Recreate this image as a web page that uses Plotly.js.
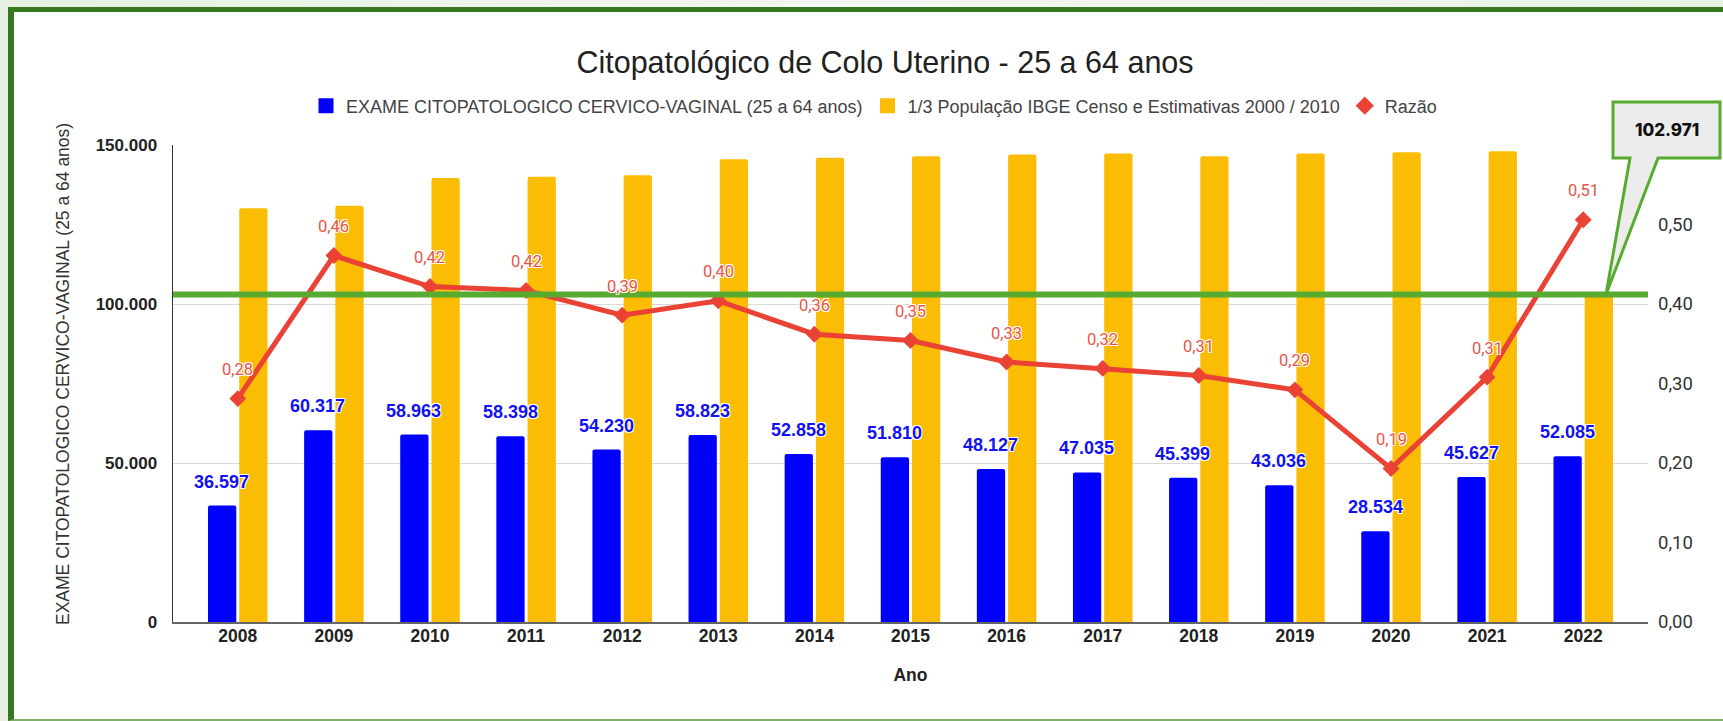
<!DOCTYPE html>
<html>
<head>
<meta charset="utf-8">
<script src="https://cdn.plot.ly/plotly-3.0.1.min.js"></script>
<style>
  html, body { margin:0; padding:0; }
  body { width:1723px; height:721px; overflow:hidden; position:relative;
         background: linear-gradient(90deg, #e6efe1 0%, #f4f8f2 50%, #e9f1e5 100%); }
  #frame { position:absolute; left:8px; top:7px; width:1800px; height:714px; box-sizing:border-box;
           background:#ffffff; border-left:6px solid #37771f; border-top:5px solid #37771f;
           border-bottom:2px solid #7fae6b; }
  #chart { position:absolute; left:0; top:0; width:1723px; height:721px; }
</style>
</head>
<body>
<div id="frame"></div>
<div id="chart"></div>
<script>
// ---- data ----
const anos = ['2008','2009','2010','2011','2012','2013','2014','2015','2016','2017','2018','2019','2020','2021','2022'];
const exames = [36597, 60317, 58963, 58398, 54230, 58823, 52858, 51810, 48127, 47035, 45399, 43036, 28534, 45627, 52085];
const populacao = [130100, 130900, 139600, 140000, 140500, 145500, 146000, 146500, 147000, 147300, 146500, 147300, 147700, 148000, 102971];
const razao = [0.281, 0.461, 0.422, 0.417, 0.386, 0.404, 0.362, 0.354, 0.327, 0.319, 0.310, 0.292, 0.193, 0.308, 0.506];
const nomeExames = 'EXAME CITOPATOLOGICO CERVICO-VAGINAL (25 a 64 anos)';
const nomePop = '1/3 População IBGE Censo e Estimativas 2000 / 2010';
const nomeRazao = 'Razão';
const titulo = 'Citopatológico de Colo Uterino - 25 a 64 anos';
const tituloY = 'EXAME CITOPATOLOGICO CERVICO-VAGINAL (25 a 64 anos)';
const tituloX = 'Ano';
const yMax = 150000;
const y2Max = 0.6;
const y2Ticks = [0, 0.1, 0.2, 0.3, 0.4, 0.5];
const linhaMeta = populacao[populacao.length - 1];

const BLUE = '#0000ff', YELLOW = '#fbbc04', RED = '#ea4335', GREEN = '#58ab31';
const halo = '1px 1px 0 #fff, -1px -1px 0 #fff, 1px -1px 0 #fff, -1px 1px 0 #fff';

const traces = [
  { type:'bar', name:nomeExames, x:anos, y:exames, marker:{color:BLUE, cornerradius:2}, showlegend:false },
  { type:'bar', name:nomePop, x:anos, y:populacao, marker:{color:YELLOW, cornerradius:2}, showlegend:false },
  { type:'scatter', mode:'lines+markers', name:nomeRazao, x:anos, y:razao, yaxis:'y2', showlegend:false,
    line:{color:RED, width:5}, marker:{symbol:'diamond', size:13, color:RED} },
  // legend entries
  { type:'scatter', mode:'markers', name:nomeExames, x:[null], y:[null],
    marker:{symbol:'square', size:15, color:BLUE} },
  { type:'scatter', mode:'markers', name:nomePop, x:[null], y:[null],
    marker:{symbol:'square', size:15, color:YELLOW} },
  { type:'scatter', mode:'markers', name:nomeRazao, x:[null], y:[null], yaxis:'y2',
    marker:{symbol:'diamond', size:14, color:RED} }
];

// callout geometry helpers (pixel -> paper)
const L = 173, R = 1648, T = 145, B = 622;
const px = v => (v - L) / (R - L);
const py = v => (B - v) / (B - T);

const annotations = [];
anos.forEach((a, i) => {
  annotations.push({ x:i, y:exames[i], xref:'x', yref:'y', xshift:-16, yshift:24, showarrow:false,
    text: exames[i].toLocaleString('de-DE'), xanchor:'center', yanchor:'middle',
    font:{family:'Liberation Sans, Arial', size:18, color:'#1212f2', weight:700, shadow:halo} });
  annotations.push({ x:i, y:razao[i], xref:'x', yref:'y2', yshift:29, showarrow:false,
    text: razao[i].toFixed(2).replace('.', ','), xanchor:'center', yanchor:'middle',
    font:{family:'Roboto', size:16.5, color:'#e8544a', shadow:halo} });
});

// y-axis title
annotations.push({ x:px(63), y:py(374), xref:'paper', yref:'paper', showarrow:false, textangle:-90,
  xanchor:'center', yanchor:'middle', text:tituloY,
  font:{family:'Liberation Sans, Arial', size:17.5, color:'#333'} });

const tipY = linhaMeta / yMax;
const callout = 'M ' + px(1613) + ',' + py(102) + ' L ' + px(1720) + ',' + py(102) + ' L ' + px(1720) + ',' + py(158) +
  ' L ' + px(1658) + ',' + py(158) + ' L ' + px(1606) + ',' + tipY + ' L ' + px(1630) + ',' + py(158) +
  ' L ' + px(1613) + ',' + py(158) + ' Z';
annotations.push({ x:px(1667), y:py(130), xref:'paper', yref:'paper', showarrow:false, xanchor:'center', yanchor:'middle',
  text: linhaMeta.toLocaleString('de-DE'), font:{family:'Inter', size:17, color:'#111', weight:800} });

const layout = {
  width:1723, height:721,
  margin:{l:L, r:1723-R, t:T, b:721-B, pad:0},
  paper_bgcolor:'rgba(0,0,0,0)', plot_bgcolor:'rgba(0,0,0,0)',
  separators:',.',
  font:{family:'Liberation Sans, Arial', color:'#222'},
  title:{ text:titulo, x:885/1723, xanchor:'center', y:1-62/721, yanchor:'middle', xref:'container', yref:'container',
          font:{family:'Liberation Sans, Arial', size:30.5, color:'#212121'} },
  barmode:'group', bargap:0.35, bargroupgap:0.095,
  showlegend:true,
  legend:{ orientation:'h', x:px(874), xanchor:'center', y:py(106), yanchor:'middle',
           font:{family:'Liberation Sans, Arial', size:18, color:'#444'}, traceorder:'normal' },
  xaxis:{ type:'category', range:[-0.674, anos.length - 1 + 0.674], showgrid:false, zeroline:false,
          showline:true, linecolor:'#666', linewidth:2, ticks:'', ticklabelstandoff:-3,
          tickfont:{family:'Liberation Sans, Arial', size:17.5, color:'#222', weight:700},
          title:{ text:tituloX, standoff:24, font:{family:'Liberation Sans, Arial', size:17.5, color:'#222', weight:700} } },
  yaxis:{ range:[0, yMax], dtick:50000, tickformat:',.0f', showgrid:true, gridcolor:'#d9d9d9', gridwidth:1,
          zeroline:false, showline:true, linecolor:'#333', linewidth:1.5, ticks:'', ticklabelstandoff:11,
          tickfont:{family:'Liberation Sans, Arial', size:17, color:'#222', weight:700} },
  yaxis2:{ overlaying:'y', side:'right', range:[0, y2Max], tickvals:y2Ticks, tickformat:'.2f', showgrid:false,
           zeroline:false, showline:false, ticks:'', ticklabelstandoff:9,
           tickfont:{family:'Roboto', size:18.5, color:'#333'} },
  shapes:[
    { type:'line', xref:'paper', yref:'y', x0:0, x1:1, y0:linhaMeta, y1:linhaMeta, layer:'above',
      line:{color:GREEN, width:6} },
    { type:'path', xref:'paper', yref:'paper', path:callout, fillcolor:'#ececec', layer:'above',
      line:{color:GREEN, width:3} }
  ],
  annotations:annotations
};

Plotly.newPlot('chart', traces, layout, {displayModeBar:false, staticPlot:true});
</script>
</body>
</html>
